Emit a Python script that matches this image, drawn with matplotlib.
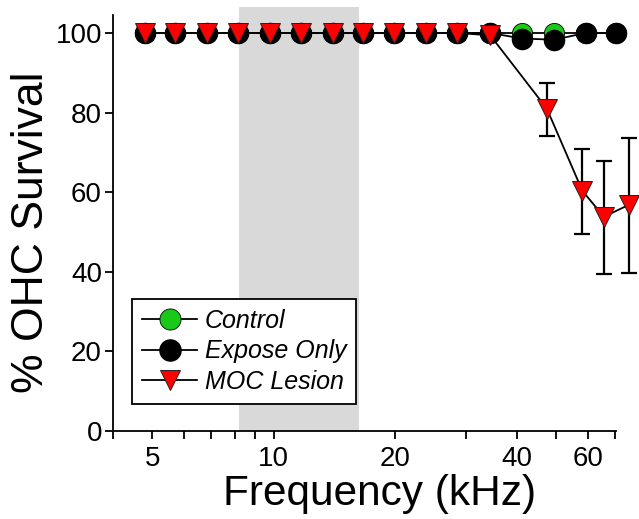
import numpy as np
import matplotlib
matplotlib.use("Agg")
import matplotlib.pyplot as plt
from matplotlib.ticker import FixedLocator, FixedFormatter, NullLocator

plt.rcParams['font.family'] = ['Liberation Sans', 'DejaVu Sans']

# frequencies (kHz)
freq = [4.8, 5.7, 6.83, 8.15, 9.81, 11.7, 14.0, 16.6, 19.9, 23.9, 28.5,
        34.4, 41.2, 49.5, 59.3, 70.6]
control = [100] * 16
expose_only = [100] * 12 + [98.6, 98.3, 100, 100]

moc_freq = [4.8, 5.7, 6.83, 8.15, 9.81, 11.7, 14.0, 16.6, 19.9, 23.9, 28.5,
            34.4, 47.5, 58.2, 65.8, 75.9]
moc_lesion = [100] * 11 + [99.4, 81.0, 60.3, 53.8, 56.8]
moc_err_lo = [0] * 12 + [7.0, 10.8, 14.4, 17.1]
moc_err_hi = [0] * 12 + [6.5, 10.6, 14.0, 16.8]

exposure_band = (8.2, 16.3)

xtick_pos = [4, 5, 6, 7, 8, 9, 10, 20, 30, 40, 50, 60, 70]
xtick_lab = ['', '5', '', '', '', '', '10', '20', '', '40', '', '60', '']
ytick_pos = [0, 20, 40, 60, 80, 100]

fig = plt.figure(figsize=(6.39, 5.19), dpi=100)
ax = fig.add_axes([0.177, 0.170, 0.787, 0.801])

ax.axvspan(*exposure_band, ymax=1.02, color='#d9d9d9', lw=0, zorder=0,
           clip_on=False)

ax.plot(freq, control, '-o', color='black', lw=1.3, ms=14.5,
        mfc='#19c819', mec='black', mew=0.6, label='Control',
        clip_on=False, zorder=3)
ax.plot(freq, expose_only, '-o', color='black', lw=1.3, ms=14.5,
        mfc='black', mec='black', label='Expose Only',
        clip_on=False, zorder=4)

m = np.array(moc_err_hi) > 0
ax.errorbar(np.array(moc_freq)[m], np.array(moc_lesion)[m],
            yerr=[np.array(moc_err_lo)[m], np.array(moc_err_hi)[m]],
            fmt='none', ecolor='black', elinewidth=1.6, capsize=5.5,
            capthick=1.6, clip_on=False, zorder=5)
ax.plot(moc_freq, moc_lesion, '-v', color='black', lw=1.3, ms=14,
        mfc='#ff0000', mec='#222222', mew=0.7, label='MOC Lesion',
        clip_on=False, zorder=6)

ax.set_xscale('log')
ax.set_xlim(4, 70.5)
ax.set_ylim(0, 104.5)
ax.xaxis.set_major_locator(FixedLocator(xtick_pos))
ax.xaxis.set_major_formatter(FixedFormatter(xtick_lab))
ax.xaxis.set_minor_locator(NullLocator())
ax.set_yticks(ytick_pos)

for s in ['top', 'right']:
    ax.spines[s].set_visible(False)
for s in ['left', 'bottom']:
    ax.spines[s].set_linewidth(1.3)
ax.tick_params(axis='both', direction='out', width=1.3, labelsize=20)
ax.tick_params(axis='x', length=6, pad=5)
ax.tick_params(axis='y', length=6, pad=2)

ax.set_xlabel('Frequency (kHz)', fontsize=30.5)
ax.xaxis.set_label_coords(0.53, -0.105)
ax.set_ylabel('% OHC Survival', fontsize=32)
ax.yaxis.set_label_coords(-0.122, 0.478)

leg = ax.legend(loc='lower left', bbox_to_anchor=(0.038, 0.065),
                borderaxespad=0,
                prop={'style': 'italic', 'size': 18}, frameon=True,
                fancybox=False, edgecolor='black', framealpha=1,
                handlelength=2.2, handletextpad=0.3, labelspacing=0.25,
                borderpad=0.4, markerscale=1.05)
leg.get_frame().set_linewidth(1.3)

fig.savefig('out.png', dpi=100)
